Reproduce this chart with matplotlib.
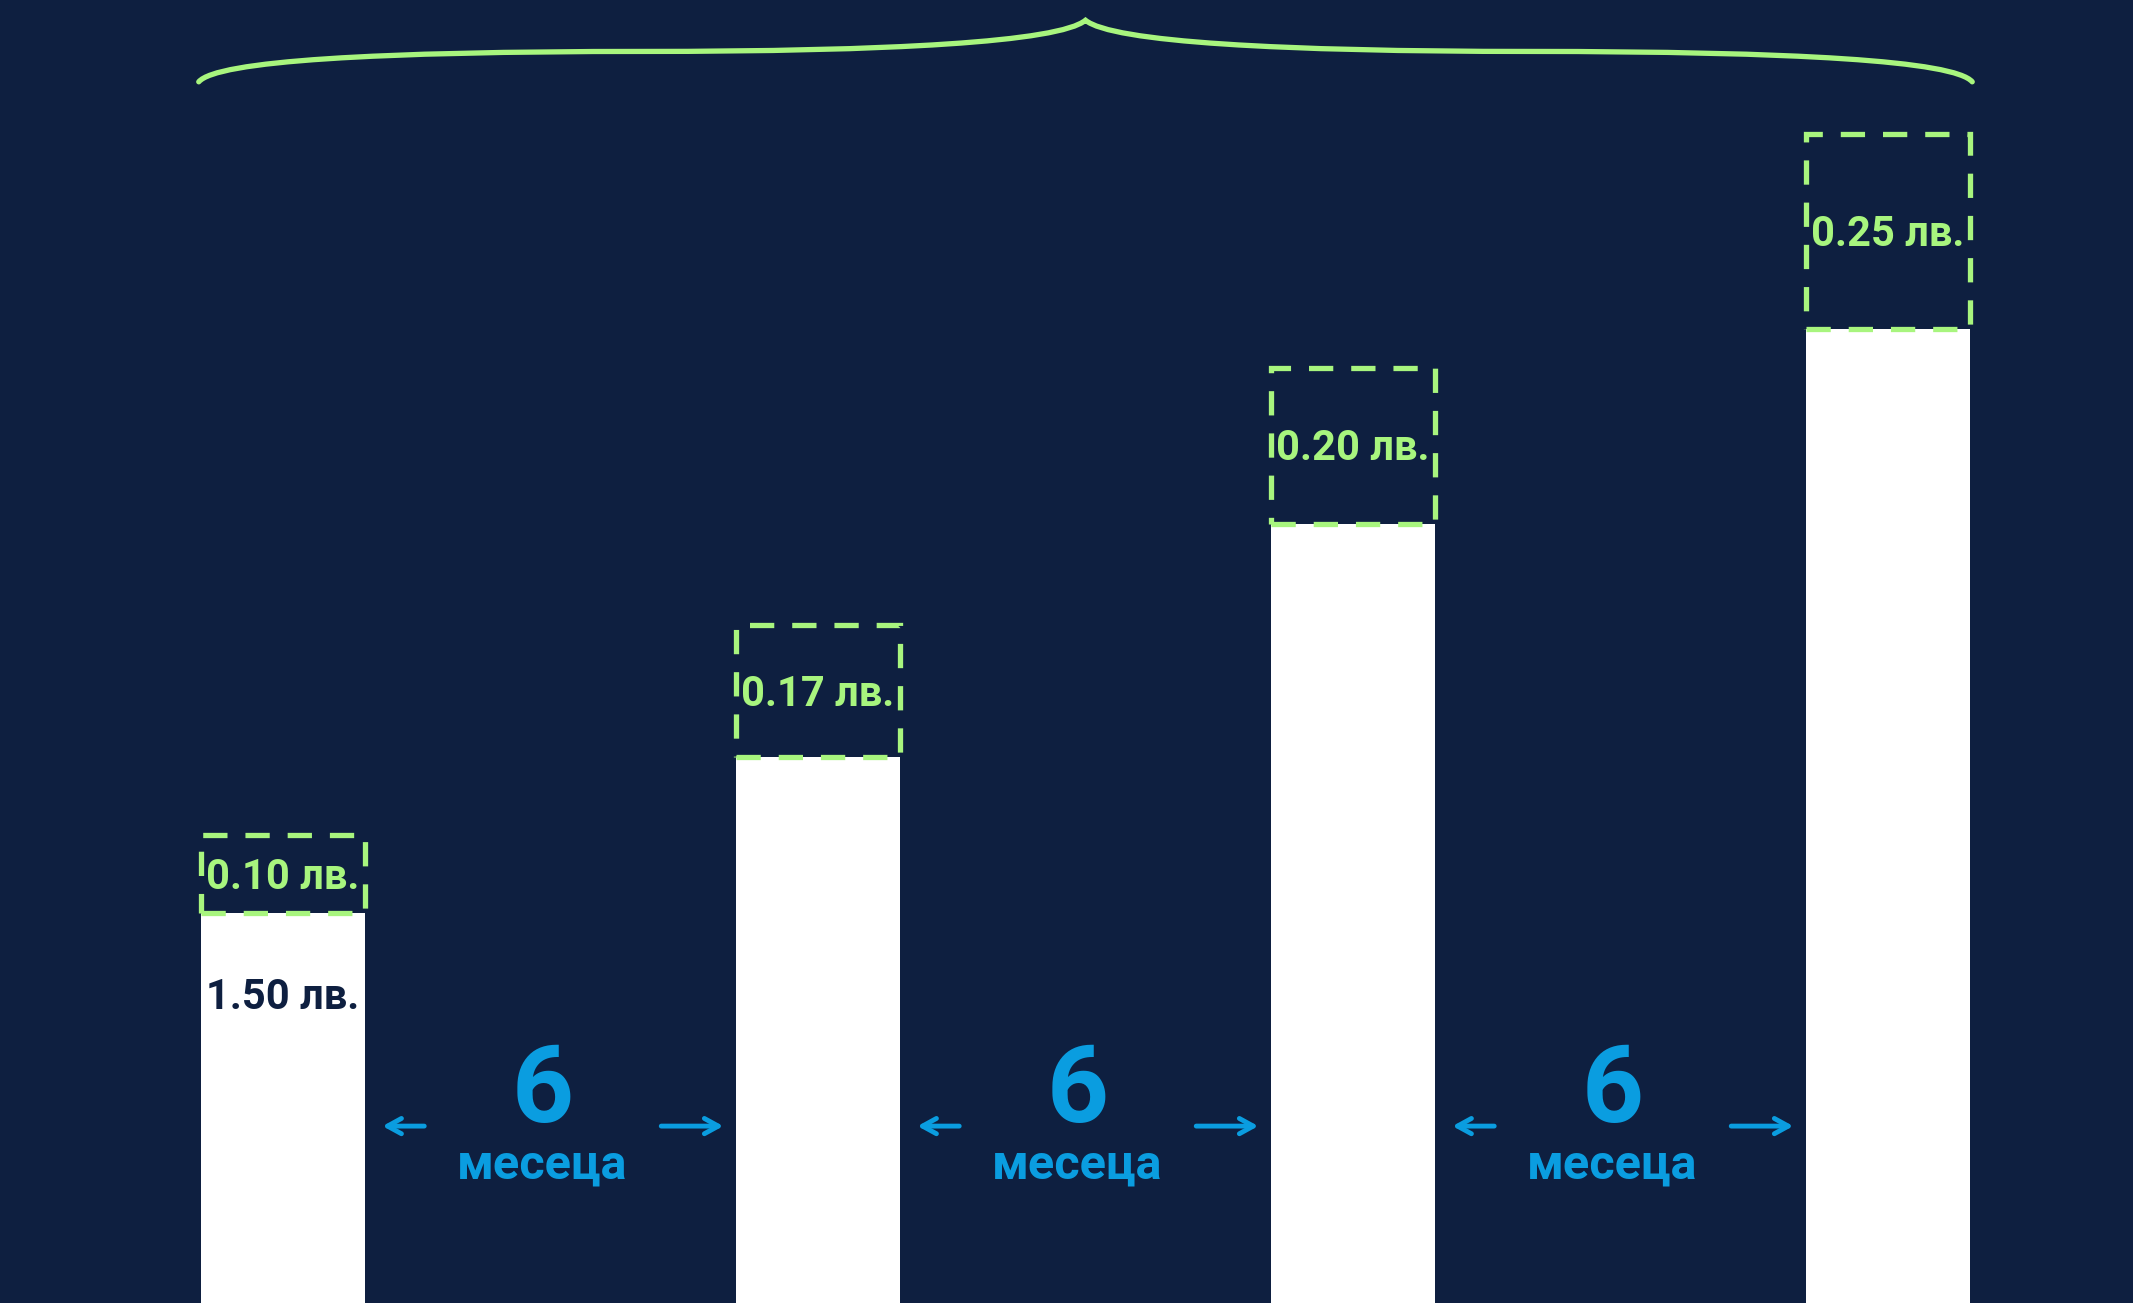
import matplotlib
matplotlib.use("Agg")
import matplotlib.pyplot as plt
from matplotlib.patches import Rectangle, PathPatch
from matplotlib.path import Path
from matplotlib import font_manager
import numpy as np

# данни
base_values = [1.50, 1.70, 2.00, 2.25]
increments = [0.10, 0.17, 0.20, 0.25]
increment_labels = ["0.10 лв.", "0.17 лв.", "0.20 лв.", "0.25 лв."]
base_label = "1.50 лв."
period_number = "6"
period_word = "месеца"

bg = "#0e1f40"
green = "#a8f57e"
blue = "#0a9de0"

# търсим шрифт, който има истински bold
font = 'DejaVu Sans'
for fam in ['Roboto', 'Open Sans', 'Inter', 'Noto Sans']:
    try:
        f = font_manager.findfont(font_manager.FontProperties(family=fam, weight='bold'),
                                  fallback_to_default=False)
        if 'bold' in f.lower():
            font = fam
            break
    except Exception:
        pass
plt.rcParams['font.family'] = [font, 'DejaVu Sans']

fig = plt.figure(figsize=(21.33, 13.03), dpi=100, facecolor=bg)
ax = fig.add_axes([0, 0, 1, 1])
ax.set_facecolor(bg)

x = np.arange(len(base_values))
w = 0.305
ymin = 1.0
ax.set_xlim(-0.529, 3.458)
ax.set_ylim(ymin, 2.672)
ax.axis('off')

# бели колони
ax.bar(x, np.array(base_values) - ymin, bottom=ymin, width=w, color="white", zorder=2)

# пунктирани кутии с добавката
for xi, b, inc, lab in zip(x, base_values, increments, increment_labels):
    rect = Rectangle((xi - w / 2, b), w, inc, fill=False, edgecolor=green,
                     lw=3.8, linestyle=(0, (4.6, 3.4)), zorder=3)
    ax.add_patch(rect)
    ax.text(xi, b + inc / 2 - 0.004, lab, color=green, fontsize=30, fontweight='bold',
            ha='center', va='center', zorder=4)

ax.text(x[0], 1.392, base_label, color=bg, fontsize=30, fontweight='bold',
        ha='center', va='center', zorder=4)

# 6 месеца между колоните
arrow = dict(arrowstyle='->, head_length=1.0, head_width=0.55', color=blue, lw=3.5,
             shrinkA=0, shrinkB=0)
for i in range(len(x) - 1):
    xm = x[i] + 0.5
    ax.text(xm - 0.015, 1.270, period_number, color=blue, fontsize=78, fontweight='bold',
            ha='center', va='center')
    ax.text(xm - 0.015, 1.177, period_word, color=blue, fontsize=35, fontweight='bold',
            ha='center', va='center')
    ax.annotate("", xy=(x[i] + 0.186, 1.227), xytext=(x[i] + 0.264, 1.227), arrowprops=arrow)
    ax.annotate("", xy=(x[i] + 0.823, 1.227), xytext=(x[i] + 0.707, 1.227), arrowprops=arrow)

# къдрава скоба отгоре
x0 = x[0] - w / 2 - 0.005
x1 = x[-1] + w / 2 + 0.005
xc = (x0 + x1) / 2
half = xc - x0
y_end, y_flat, y_peak = 2.567, 2.606, 2.646
verts = [
    (x0, y_end),
    (x0 + 0.02 * half, y_flat - 0.012), (x0 + 0.2 * half, y_flat), (x0 + 0.5 * half, y_flat),
    (x0 + 0.78 * half, y_flat), (xc - 0.03 * half, y_flat + 0.012), (xc, y_peak),
    (xc + 0.03 * half, y_flat + 0.012), (x1 - 0.78 * half, y_flat), (x1 - 0.5 * half, y_flat),
    (x1 - 0.2 * half, y_flat), (x1 - 0.02 * half, y_flat - 0.012), (x1, y_end),
]
codes = [Path.MOVETO] + [Path.CURVE4] * 12
ax.add_patch(PathPatch(Path(verts, codes), fill=False, edgecolor=green, lw=3.8,
                       capstyle='round'))

fig.savefig("out.png", dpi=100, facecolor=bg)
